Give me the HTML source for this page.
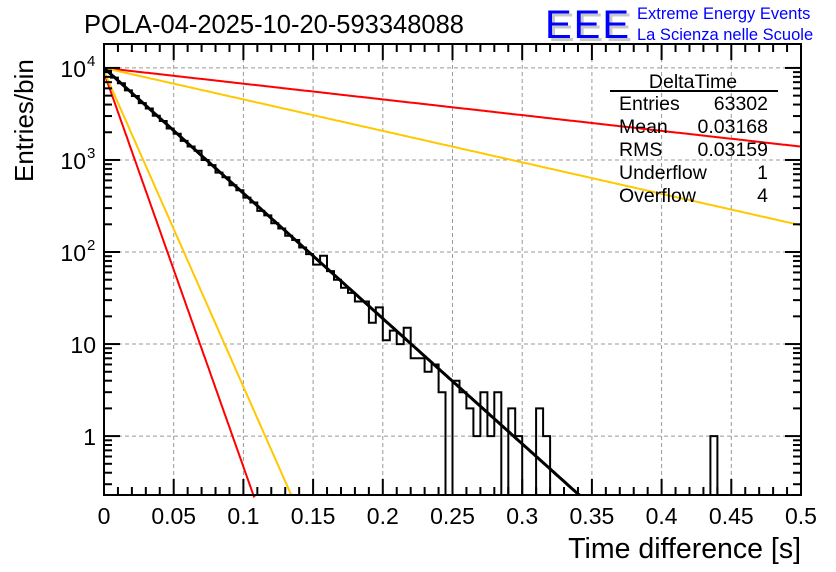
<!DOCTYPE html>
<html><head><meta charset="utf-8"><style>
html,body{margin:0;padding:0;background:#fff;}
svg{display:block;font-family:"Liberation Sans",Arial,sans-serif;}
</style></head><body>
<svg id="c" width="836" height="572" viewBox="0 0 836 572">
<rect width="836" height="572" fill="#fff"/>
<text x="84" y="33" font-size="25.5">POLA-04-2025-10-20-593348088</text>
<g>
<text x="548" y="41" font-size="40" fill="#c8c8c8" textLength="84">EEE</text>
<text x="545" y="38" font-size="40" fill="#0000ff" textLength="84">EEE</text>
<text x="637" y="19" font-size="16.5" fill="#0000ff">Extreme Energy Events</text>
<text x="637" y="40" font-size="16.5" fill="#0000ff">La Scienza nelle Scuole</text>
</g>
<g id="grid"></g>
<g id="marks"></g>
<g id="axes"></g>
<g font-size="19.5">
<text x="693" y="88" text-anchor="middle">DeltaTime</text>
<line x1="610" y1="91" x2="778" y2="91" stroke="#000" stroke-width="2"/>
<text x="619" y="110">Entries</text><text x="768" y="110" text-anchor="end">63302</text>
<text x="619" y="133">Mean</text><text x="768" y="133" text-anchor="end">0.03168</text>
<text x="619" y="156">RMS</text><text x="768" y="156" text-anchor="end">0.03159</text>
<text x="619" y="179">Underflow</text><text x="768" y="179" text-anchor="end">1</text>
<text x="619" y="202">Overflow</text><text x="768" y="202" text-anchor="end">4</text>
</g>
<text x="801" y="558" font-size="28.5" text-anchor="end">Time difference [s]</text>
<text transform="translate(33,182) rotate(-90)" font-size="26">Entries/bin</text>
</svg>
<script>
const binCounts = [9300,7850,6800,5700,4950,4150,3620,3020,2650,2200,1930,1610,1400,1260,1000,880,730,650,530,470,390,345,280,250,205,180,150,135,112,95,73,91,62,50,41,36,29,29,17,25,11,14,10,15,7,7,5,6,3,0,4,3,2,1,3,1,3,0,2,1,0,0,2,1,0,0,0,0,0,0,0,0,0,0,0,0,0,0,0,0,0,0,0,0,0,0,0,1,0,0,0,0,0,0,0,0,0,0,0,0];
const binWidth = 0.005;
const fitN0 = [10000];
const fitTau = [0.0319];
const curveN0 = [10000, 10000, 8900, 9200];
const curveTau = [0.254, 0.127, 0.01014, 0.01267];
const curveColors = ['#ff0000','#ffc800','#ff0000','#ffc800'];
const xTicks = ['0','0.05','0.1','0.15','0.2','0.25','0.3','0.35','0.4','0.45','0.5'];
const yTicks = [1,10,100,1000,10000];

const NS='http://www.w3.org/2000/svg';
const X0=104,X1=801,Y0=44,Y1=495,XMAX=0.5;
const LTOP=4.26,LBOT=-0.64;
function sx(v){return X0+(v/XMAX)*(X1-X0);}
function sy(v){const l=Math.log10(Math.max(v,1e-9));return Y0+(LTOP-l)/(LTOP-LBOT)*(Y1-Y0);}
function cy(v){return Math.min(Y1,Math.max(Y0,sy(v)));}
function mk(tag,attrs,parent){const e=document.createElementNS(NS,tag);for(const k in attrs)e.setAttribute(k,attrs[k]);parent.appendChild(e);return e;}
const grid=document.getElementById('grid'),marks=document.getElementById('marks'),axes=document.getElementById('axes');

xTicks.forEach((t,i)=>{const v=parseFloat(t);if(v>0&&v<XMAX){const l=mk('line',{x1:sx(v),x2:sx(v),y1:Y0,y2:Y1,stroke:'#999','stroke-dasharray':'4,3'},grid);

}});
yTicks.forEach(v=>{const l=mk('line',{x1:X0,x2:X1,y1:sy(v),y2:sy(v),stroke:'#999','stroke-dasharray':'4,3'},grid);

});

curveN0.forEach((n0,i)=>{let d='';for(let k=0;k<=400;k++){const t=k/400*XMAX;const v=n0*Math.exp(-t/curveTau[i]);if(sy(v)>Y1+2){d+=(d?'L':'M')+sx(t).toFixed(1)+','+Y1;break;}d+=(d?'L':'M')+sx(t).toFixed(1)+','+sy(v).toFixed(1);}
const p=mk('path',{d:d,fill:'none',stroke:curveColors[i],'stroke-width':2},marks);

});

let d='M'+sx(0)+','+Y1;
binCounts.forEach((c,i)=>{const y=c>0?cy(c):Y1;d+='L'+sx(i*binWidth).toFixed(1)+','+y.toFixed(1)+'L'+sx((i+1)*binWidth).toFixed(1)+','+y.toFixed(1);});
d+='L'+sx(binCounts.length*binWidth)+','+Y1;
const h=mk('path',{d:d,fill:'none',stroke:'#000','stroke-width':2},marks);



{let d='';for(let k=0;k<=400;k++){const t=k/400*XMAX;const v=fitN0[0]*Math.exp(-t/fitTau[0]);if(sy(v)>Y1){d+='L'+sx(t).toFixed(1)+','+Y1;break;}d+=(d?'L':'M')+sx(t).toFixed(1)+','+sy(v).toFixed(1);}
const f=mk('path',{d:d,fill:'none',stroke:'#000','stroke-width':3},marks);

}

const fr=mk('rect',{x:X0,y:Y0,width:X1-X0,height:Y1-Y0,fill:'none',stroke:'#000','stroke-width':2},axes);


for(let k=0;k<=50;k++){const v=k*0.01;const major=k%5===0;const len=major?16:8;
mk('line',{x1:sx(v),x2:sx(v),y1:Y1,y2:Y1-len,stroke:'#000','stroke-width':2},axes);
mk('line',{x1:sx(v),x2:sx(v),y1:Y0,y2:Y0+len,stroke:'#000','stroke-width':2},axes);}
xTicks.forEach(t=>{const tx=mk('text',{x:sx(parseFloat(t)),y:524,'font-size':23,'text-anchor':'middle'},axes);tx.textContent=t;

});
for(let e=-1;e<=4;e++){for(let m=1;m<=9;m++){const v=m*Math.pow(10,e);const y=sy(v);if(y<Y0||y>Y1)continue;const len=m===1?16:8;
mk('line',{x1:X0,x2:X0+len,y1:y,y2:y,stroke:'#000','stroke-width':2},axes);
mk('line',{x1:X1,x2:X1-len,y1:y,y2:y,stroke:'#000','stroke-width':2},axes);}}
const yl=['1','10','10','10','10'],ys=['','','2','3','4'];
yTicks.forEach((v,i)=>{const tx=mk('text',{x:i>=2?86:96,y:sy(v)+9,'font-size':23,'text-anchor':'end'},axes);tx.textContent=yl[i];


if(ys[i]){const s=mk('text',{x:87,y:sy(v)-2,'font-size':15},axes);s.textContent=ys[i];

}});
</script>
</body></html>
